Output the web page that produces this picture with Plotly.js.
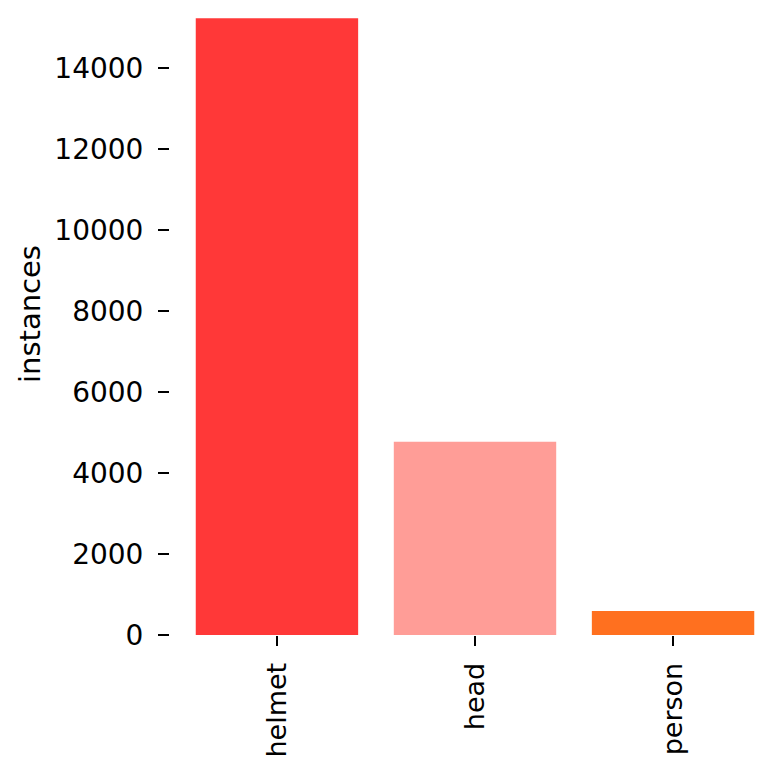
<!DOCTYPE html>
<html>
<head>
<meta charset="utf-8">
<script src="https://cdn.plot.ly/plotly-3.0.1.min.js"></script>
<style>
  html, body { margin: 0; padding: 0; background: #fff; }
  #chart { width: 782px; height: 774px; }
</style>
</head>
<body>
<div id="chart"></div>
<script>
// class counts
const classes = ['helmet', 'head', 'person'];
const instances = [15230, 4770, 590];
const barColors = ['#FF3838', '#FF9D97', '#FF701F'];
const yTicks = [0, 2000, 4000, 6000, 8000, 10000, 12000, 14000];

const fontFam = 'DejaVu Sans, sans-serif';

var trace = {
  type: 'bar',
  x: classes,
  y: instances,
  width: 0.82,
  marker: { color: barColors, line: { width: 0 } },
  hoverinfo: 'x+y'
};

var layout = {
  width: 782,
  height: 774,
  margin: { l: 170, r: 2, t: 10, b: 139 },
  paper_bgcolor: '#fff',
  plot_bgcolor: '#fff',
  showlegend: false,
  font: { family: fontFam, size: 27, color: '#000' },
  xaxis: {
    type: 'category',
    range: [-0.54, 2.54],
    showline: false,
    showgrid: false,
    zeroline: false,
    ticks: 'outside',
    ticklen: 10,
    tickwidth: 2.5,
    tickcolor: '#000',
    tickangle: -90,
    ticklabelstandoff: 6,
    tickfont: { family: fontFam, size: 27, color: '#000' },
    automargin: false
  },
  yaxis: {
    range: [0, 15432],
    tickvals: yTicks,
    ticktext: yTicks.map(String),
    showline: false,
    showgrid: false,
    zeroline: false,
    ticks: 'outside',
    ticklen: 11,
    tickwidth: 2.5,
    tickcolor: '#000',
    ticklabelstandoff: 9,
    tickfont: { family: fontFam, size: 28, color: '#000' },
    automargin: false
  },
  // axis label placed as an annotation so it can sit slightly above centre
  annotations: [{
    text: 'instances',
    xref: 'paper', yref: 'paper',
    x: -0.2295, y: 0.5136,
    xanchor: 'center', yanchor: 'middle',
    textangle: -90,
    showarrow: false,
    font: { family: fontFam, size: 29, color: '#000' }
  }]
};

Plotly.newPlot('chart', [trace], layout, { displayModeBar: false, staticPlot: true });
</script>
</body>
</html>
